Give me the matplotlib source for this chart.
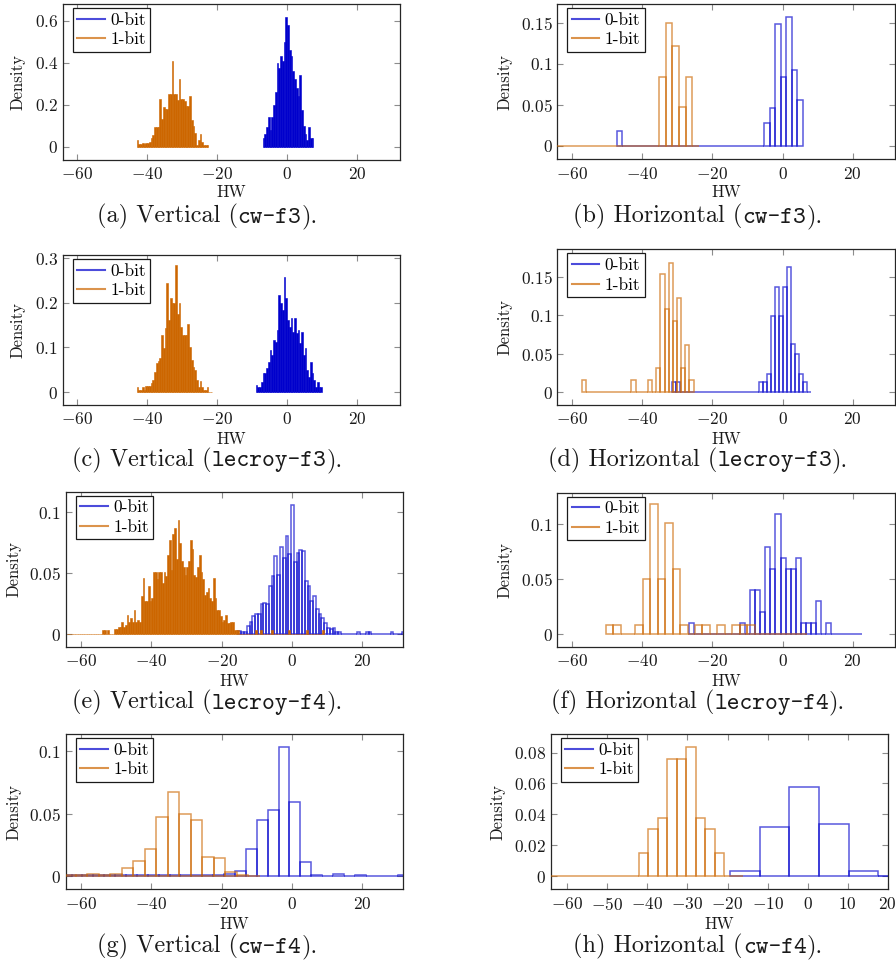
import numpy as np
import matplotlib
matplotlib.use("Agg")
import matplotlib.pyplot as plt
from matplotlib.lines import Line2D
from matplotlib.ticker import FuncFormatter, FixedLocator
from matplotlib.offsetbox import TextArea, HPacker, AnnotationBbox

plt.rcParams['mathtext.fontset'] = 'cm'
plt.rcParams['font.family'] = ['cmr10', 'DejaVu Sans']
plt.rcParams['axes.unicode_minus'] = True

# ---------------- data: histogram bins (start, width, heights) ----------------
series_labels = ["0-bit", "1-bit"]

# (a) Vertical (cw-f3)
a0_start, a0_width = -7.0, 0.5
a0_heights = [0.04, 0.06, 0.093, 0.14, 0.08, 0.14, 0.2, 0.26, 0.40, 0.375,
              0.43, 0.41, 0.50, 0.62, 0.58, 0.46, 0.43, 0.36, 0.32, 0.28,
              0.24, 0.34, 0.175, 0.10, 0.06, 0.03, 0.093, 0.04, 0.04]
a1_start, a1_width = -43.0, 0.5
a1_heights = [0.03, 0.01, 0.01, 0.016, 0.01, 0.016, 0.016, 0.02, 0.04, 0.056,
              0.093, 0.093, 0.093, 0.227, 0.13, 0.188, 0.18, 0.18, 0.25, 0.25,
              0.41, 0.25, 0.25, 0.22, 0.32, 0.227, 0.227, 0.215, 0.195, 0.195,
              0.24, 0.128, 0.10, 0.064, 0.008, 0.032, 0.06, 0.02, 0.008, 0.008,
              0.008]

# (b) Horizontal (cw-f3)
b0_start, b0_width = -47.3, 1.56
b0_heights = [0.0187, 0, 0, 0, 0, 0, 0, 0, 0, 0,
              0, 0, 0, 0, 0, 0, 0, 0, 0, 0,
              0, 0, 0, 0, 0, 0, 0, 0.0276, 0.0458, 0.148,
              0.0835, 0.157, 0.0925, 0.056]
b1_start, b1_width = -65.6, 1.9
b1_heights = [0, 0, 0, 0, 0, 0, 0, 0, 0, 0,
              0, 0, 0, 0, 0, 0, 0.0843, 0.150, 0.1217, 0.047,
              0.0843, 0]

# (c) Vertical (lecroy-f3)
c0_start, c0_width = -9.0, 0.5
c0_heights = [0.016, 0.012, 0.012, 0.023, 0.042, 0.042, 0.053, 0.068, 0.094, 0.083,
              0.117, 0.113, 0.139, 0.218, 0.2, 0.184, 0.259, 0.21, 0.162, 0.147,
              0.165, 0.135, 0.165, 0.132, 0.139, 0.109, 0.135, 0.083, 0.098, 0.05,
              0.034, 0.068, 0.042, 0.027, 0.012, 0.023, 0.012, 0.012]
c1_start, c1_width = -43.0, 0.5
c1_heights = [0.012, 0.005, 0.005, 0.012, 0.005, 0.013, 0.013, 0.013, 0.02, 0.027,
              0.046, 0.064, 0.07, 0.076, 0.128, 0.098, 0.143, 0.244, 0.162, 0.21,
              0.2, 0.2, 0.285, 0.175, 0.2, 0.147, 0.128, 0.128, 0.128, 0.152,
              0.10, 0.072, 0.057, 0.05, 0.027, 0.012, 0.025, 0.012, 0.005, 0.005,
              0.012, 0.0, 0.0]

# (d) Horizontal (lecroy-f3)
d0_start, d0_width = -31.4, 1.127
d0_heights = [0.0126, 0.0126, 0, 0, 0, 0, 0, 0, 0, 0,
              0, 0, 0, 0, 0, 0, 0, 0, 0, 0,
              0, 0, 0.0126, 0.0126, 0.024, 0.099, 0.137, 0.099, 0.137, 0.162,
              0.062, 0.05, 0.024, 0.0126, 0]
d1_start, d1_width = -57.2, 1.179
d1_heights = [0.0156, 0, 0, 0, 0, 0, 0, 0, 0, 0,
              0, 0, 0.0156, 0, 0, 0, 0.0156, 0, 0.031, 0.153,
              0.1075, 0.168, 0.092, 0.122, 0.031, 0.061, 0.0156]

# (e) Vertical (lecroy-f4)
e0_start, e0_width = -15.2, 0.787
e0_heights = [0.003, 0.002, 0.002, 0.007, 0.010, 0.015, 0.017, 0.017, 0.025, 0.026,
              0.025, 0.040, 0.048, 0.064, 0.049, 0.072, 0.063, 0.081, 0.066, 0.106,
              0.059, 0.067, 0.069, 0.068, 0.044, 0.040, 0.027, 0.031, 0.021, 0.017,
              0.013, 0.009, 0.0055, 0.004, 0.005, 0.0016, 0.0016, 0, 0, 0,
              0, 0, 0, 0.0016, 0, 0, 0.0016, 0.0016, 0, 0,
              0, 0, 0, 0, 0, 0.0016, 0, 0, 0, 0.0016]
e1_start, e1_width = -64.0, 0.5
e1_heights = [0, 0, 0, 0, 0, 0, 0, 0, 0, 0,
              0, 0, 0, 0, 0, 0, 0, 0, 0, 0,
              0.0036, 0.0036, 0.0, 0.0036, 0, 0, 0, 0.004, 0.004, 0.006,
              0.006, 0.010, 0.006, 0.008, 0.016, 0.010, 0.013, 0.010, 0.020, 0.010,
              0.012, 0.010, 0.031, 0.046, 0.027, 0.027, 0.040, 0.027, 0.030, 0.051,
              0.051, 0.045, 0.051, 0.051, 0.042, 0.051, 0.048, 0.065, 0.077, 0.053,
              0.082, 0.087, 0.062, 0.094, 0.075, 0.060, 0.055, 0.049, 0.055, 0.060,
              0.077, 0.070, 0.049, 0.047, 0.055, 0.065, 0.051, 0.045, 0.032, 0.035,
              0.038, 0.030, 0.027, 0.046, 0.030, 0.020, 0.020, 0.015, 0.010, 0.012,
              0.016, 0.009, 0.009, 0.010, 0.010, 0.0036, 0.0036, 0.0036,
              0, 0, 0, 0, 0, 0, 0, 0, 0, 0.0036,
              0, 0, 0.0036, 0, 0, 0, 0, 0, 0.0036, 0,
              0, 0, 0, 0, 0, 0, 0, 0, 0.0036, 0,
              0, 0, 0, 0, 0, 0, 0, 0, 0.0036, 0,
              0, 0, 0, 0, 0, 0, 0, 0.0036]

# (f) Horizontal (lecroy-f4)
f0_start, f0_width = -26.56, 1.444
f0_heights = [0.01, 0, 0, 0, 0, 0, 0, 0, 0, 0,
              0.01, 0, 0.04, 0.04, 0.02, 0.079, 0.059, 0.109, 0.069, 0.059,
              0.059, 0.069, 0.01, 0.01, 0.01, 0.03, 0, 0.01, 0, 0,
              0, 0, 0, 0]
f1_start, f1_width = -50.4, 2.121
f1_heights = [0.0085, 0.0085, 0, 0, 0.0085, 0.050, 0.118, 0.050, 0.101, 0.059,
              0.0085, 0, 0.0085, 0.0085, 0, 0.0085, 0, 0.0085, 0.0085, 0.0085,
              0, 0, 0, 0, 0, 0, 0]

# (g) Vertical (cw-f4)
g0_start, g0_width = -65.8, 3.1
g0_heights = [0.0005, 0.0005, 0.0008, 0.0005, 0.0005, 0.0008, 0.0008, 0.0005, 0.0008, 0.0005,
              0.0012, 0.0005, 0.0012, 0.0012, 0.0008, 0.0016, 0.0043, 0.0213, 0.0448, 0.0525,
              0.103, 0.059, 0.0112, 0.0005, 0.0, 0.0016, 0.0, 0.0008, 0.0, 0.0,
              0.0, 0.0008]
g1_start, g1_width = -64.78, 3.27
g1_heights = [0.0008, 0.0012, 0.0016, 0.0012, 0.0016, 0.0061, 0.0123, 0.0216, 0.0475, 0.0672,
              0.0496, 0.0448, 0.0149, 0.0141, 0.0029, 0.0008, 0.0003]

# (h) Horizontal (cw-f4)
h0_start, h0_width = -19.4, 7.42
h0_heights = [0.0037, 0.0317, 0.058, 0.0336, 0.0037, 0.0]
h1_start, h1_width = -66.0, 2.38
h1_heights = [0, 0, 0, 0, 0, 0, 0, 0, 0, 0,
              0.0149, 0.0304, 0.038, 0.0759, 0.0759, 0.0834, 0.038, 0.0304, 0.0149, 0,
              0]

captions = [("(a) Vertical (", "cw-f3"), ("(b) Horizontal (", "cw-f3"),
            ("(c) Vertical (", "lecroy-f3"), ("(d) Horizontal (", "lecroy-f3"),
            ("(e) Vertical (", "lecroy-f4"), ("(f) Horizontal (", "lecroy-f4"),
            ("(g) Vertical (", "cw-f4"), ("(h) Horizontal (", "cw-f4")]

# ---------------- layout / style ----------------
W, H = 896, 965
BLUE = (0.0, 0.0, 0.80)
ORANGE = (0.80, 0.40, 0.0)

panels = [
    dict(s=[(a0_start, a0_width, a0_heights), (a1_start, a1_width, a1_heights)], dense=(True, True),
         rect=(63, 4, 399.5, 159.5), xlim=(-64.0, 32.1), ylim=(-0.062, 0.68),
         xt=[-60, -40, -20, 0, 20], yt=[0, 0.2, 0.4, 0.6], ylx=18, col=0),
    dict(s=[(b0_start, b0_width, b0_heights), (b1_start, b1_width, b1_heights)], dense=(False, False),
         rect=(557.3, 4, 895, 159.3), xlim=(-64.2, 32.05), ylim=(-0.0162, 0.1727),
         xt=[-60, -40, -20, 0, 20], yt=[0, 0.05, 0.1, 0.15], ylx=505, col=1),
    dict(s=[(c0_start, c0_width, c0_heights), (c1_start, c1_width, c1_heights)], dense=(True, True),
         rect=(63, 255, 399.5, 404.7), xlim=(-64.0, 32.1), ylim=(-0.0285, 0.3075),
         xt=[-60, -40, -20, 0, 20], yt=[0, 0.1, 0.2, 0.3], ylx=18, col=0),
    dict(s=[(d0_start, d0_width, d0_heights), (d1_start, d1_width, d1_heights)], dense=(False, False),
         rect=(557.3, 249.3, 895, 404.7), xlim=(-64.2, 32.05), ylim=(-0.0165, 0.1856),
         xt=[-60, -40, -20, 0, 20], yt=[0, 0.05, 0.1, 0.15], ylx=505, col=1),
    dict(s=[(e0_start, e0_width, e0_heights), (e1_start, e1_width, e1_heights)], dense=(False, True),
         rect=(66, 491.7, 403, 646.7), xlim=(-64.27, 31.6), ylim=(-0.0102, 0.117),
         xt=[-60, -40, -20, 0, 20], yt=[0, 0.05, 0.1], ylx=13.5, col=0),
    dict(s=[(f0_start, f0_width, f0_heights), (f1_start, f1_width, f1_heights)], dense=(False, False),
         rect=(557.3, 492.7, 895, 646.7), xlim=(-64.2, 32.05), ylim=(-0.0113, 0.1287),
         xt=[-60, -40, -20, 0, 20], yt=[0, 0.05, 0.1], ylx=505, col=1),
    dict(s=[(g0_start, g0_width, g0_heights), (g1_start, g1_width, g1_heights)], dense=(False, False),
         rect=(66, 734, 403, 889.3), xlim=(-64.27, 31.6), ylim=(-0.0106, 0.1136),
         xt=[-60, -40, -20, 0, 20], yt=[0, 0.05, 0.1], ylx=13.5, col=0),
    dict(s=[(h0_start, h0_width, h0_heights), (h1_start, h1_width, h1_heights)], dense=(False, False),
         rect=(551, 734, 887.7, 889.3), xlim=(-64.07, 20.0), ylim=(-0.0084, 0.092),
         xt=[-60, -50, -40, -30, -20, -10, 0, 10, 20], yt=[0, 0.02, 0.04, 0.06, 0.08], ylx=498, col=1),
]
hw_y = [192.7, 192.7, 439.3, 439.3, 681, 681, 924, 924]
cap_y = [216.7, 216.7, 460, 460, 702.7, 702.7, 946.7, 946.7]
cap_x = [207, 698]

TICK_FS = 12.5
LEG_FS = 12.5
LABEL_FS = 12
CAP_FS = 17.5
TXT = '0.1'

fig = plt.figure(figsize=(W / 100, H / 100), dpi=100)
fmt = FuncFormatter(lambda v, p: "$%g$" % v)


def draw_series(ax, start, width, heights, color, dense, z):
    heights = np.asarray(heights, dtype=float)
    left = start + width * np.arange(len(heights))
    if dense:
        ax.bar(left, heights, width=width, align='edge', color=color,
               edgecolor=color, linewidth=0.4, zorder=z)
    else:
        ax.bar(left, heights, width=width, align='edge', fill=False,
               edgecolor=(*color, 0.65), linewidth=1.1, zorder=z)


for i, p in enumerate(panels):
    l, t, r, b = p['rect']
    ax = fig.add_axes([l / W, 1 - b / H, (r - l) / W, (b - t) / H])
    for k, ((st, wd, hs), col) in enumerate(zip(p['s'], [BLUE, ORANGE])):
        draw_series(ax, st, wd, hs, col, p['dense'][k], 2 + k)
    ax.set_xlim(*p['xlim'])
    ax.set_ylim(*p['ylim'])
    ax.xaxis.set_major_locator(FixedLocator(p['xt']))
    ax.yaxis.set_major_locator(FixedLocator(p['yt']))
    ax.xaxis.set_major_formatter(fmt)
    ax.yaxis.set_major_formatter(fmt)
    ax.tick_params(direction='in', top=True, right=True, length=4, width=0.8,
                   color='0.55', labelsize=TICK_FS, labelcolor=TXT)
    ax.tick_params(axis='x', pad=4.5)
    ax.tick_params(axis='y', pad=3.5)
    for sp in ax.spines.values():
        sp.set_linewidth(0.9)
        sp.set_color('0.15')
    handles = [Line2D([], [], color=(*BLUE, 0.7), lw=1.5),
               Line2D([], [], color=(*ORANGE, 0.7), lw=1.5)]
    wpx, hpx = r - l, b - t
    ax.legend(handles, series_labels, loc='upper left',
              bbox_to_anchor=(10 / wpx, 1 - 4 / hpx), borderaxespad=0,
              fontsize=LEG_FS, frameon=True, fancybox=False, framealpha=1,
              edgecolor='0.1', handlelength=1.6, handletextpad=0.3,
              borderpad=0.25, labelspacing=0.25)
    ax.get_legend().get_frame().set_linewidth(0.9)
    fig.text(p['ylx'] / W, 1 - ((t + b) / 2) / H, "Density", rotation=90,
             ha='center', va='center', fontsize=LABEL_FS, color=TXT)
    fig.text(((l + r) / 2) / W, 1 - hw_y[i] / H, "HW", ha='center', va='center',
             fontsize=LABEL_FS, color=TXT)
    pre, code = captions[i]
    parts = [TextArea(pre, textprops=dict(fontfamily='cmr10', fontsize=CAP_FS, color=TXT)),
             TextArea(code, textprops=dict(fontfamily='cmtt10', fontsize=CAP_FS, color=TXT)),
             TextArea(").", textprops=dict(fontfamily='cmr10', fontsize=CAP_FS, color=TXT))]
    box = HPacker(children=parts, align='baseline', pad=0, sep=0)
    ab = AnnotationBbox(box, (cap_x[p['col']] / W, 1 - cap_y[i] / H),
                        xycoords='figure fraction', frameon=False,
                        box_alignment=(0.5, 0.5))
    fig.add_artist(ab)

fig.savefig("out.png", dpi=100)
